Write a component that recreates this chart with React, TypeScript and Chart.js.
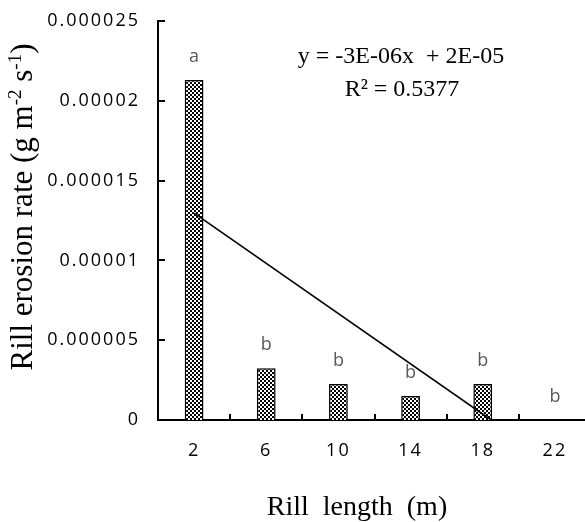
import React, { useEffect, useRef } from 'react';
import { Chart, registerables } from 'chart.js';

Chart.register(...registerables);

const categories = ['2', '6', '10', '14', '18', '22'];
const erosionRates = [0.0000213, 0.00000325, 0.00000225, 0.0000015, 0.00000225, 0];
const significanceLetters = ['a', 'b', 'b', 'b', 'b', 'b'];
const yTickLabels = ['0', '0.000005', '0.00001', '0.000015', '0.00002', '0.000025'];
const equationLines = ['y = -3E-06x  + 2E-05', 'R\u00B2 = 0.5377'];
const xAxisTitle = 'Rill  length  (m)';
const yAxisTitleParts = [
  { t: 'Rill erosion rate (g m', sup: false },
  { t: '-2', sup: true },
  { t: ' s', sup: false },
  { t: '-1', sup: true },
  { t: ')', sup: false },
];

function linearFit(ys: number[]) {
  const n = ys.length;
  const xs = ys.map((_, i) => i + 1);
  const mx = xs.reduce((a, b) => a + b, 0) / n;
  const my = ys.reduce((a, b) => a + b, 0) / n;
  let sxy = 0;
  let sxx = 0;
  for (let i = 0; i < n; i++) {
    sxy += (xs[i] - mx) * (ys[i] - my);
    sxx += (xs[i] - mx) * (xs[i] - mx);
  }
  const slope = sxy / sxx;
  return { slope, intercept: my - slope * mx };
}

function trendPoints(ys: number[]) {
  const { slope, intercept } = linearFit(ys);
  const n = ys.length;
  const start = { x: 1, y: intercept + slope };
  let endX = n;
  let endY = intercept + slope * n;
  if (endY < 0 && slope !== 0) {
    endX = -intercept / slope;
    endY = 0;
  }
  return [start, { x: endX, y: endY }];
}

const SERIF = '"Liberation Serif", "Times New Roman", serif';
const SANS = '"Open Sans", sans-serif';

const overlayPlugin = {
  id: 'overlay',
  beforeDraw(chart: any) {
    chart.ctx.letterSpacing = '2px';
  },
  afterDraw(chart: any) {
    const ctx = chart.ctx;
    const xs = chart.scales.x;
    const ys = chart.scales.y;
    const area = chart.chartArea;
    ctx.save();
    ctx.letterSpacing = '0px';
    ctx.strokeStyle = '#000';
    ctx.lineWidth = 2;
    ys.ticks.forEach((t: any) => {
      const py = Math.round(ys.getPixelForValue(t.value));
      ctx.beginPath();
      ctx.moveTo(area.left, py);
      ctx.lineTo(area.left + 7, py);
      ctx.stroke();
    });
    for (let i = 1; i < categories.length; i++) {
      const px = Math.round(xs.getPixelForValue(i + 0.5));
      ctx.beginPath();
      ctx.moveTo(px, area.bottom);
      ctx.lineTo(px, area.bottom - 6);
      ctx.stroke();
    }
    const meta = chart.getDatasetMeta(0);
    ctx.fillStyle = '#595959';
    ctx.font = `18px ${SANS}`;
    ctx.textAlign = 'center';
    ctx.textBaseline = 'alphabetic';
    meta.data.forEach((el: any, i: number) => {
      ctx.fillText(significanceLetters[i], el.x, el.y - 18);
    });
    ctx.fillStyle = '#000';
    ctx.font = `24px ${SERIF}`;
    ctx.fillText(equationLines[0], 401, 63);
    ctx.fillText(equationLines[1], 402, 96);
    ctx.font = `28px ${SERIF}`;
    ctx.fillText(xAxisTitle, 357, 515);
    const base = 31;
    const supSize = 19;
    ctx.translate(32, 207);
    ctx.rotate(-Math.PI / 2);
    ctx.textAlign = 'left';
    let total = 0;
    const widths = yAxisTitleParts.map((p) => {
      ctx.font = `${p.sup ? supSize : base}px ${SERIF}`;
      const w = ctx.measureText(p.t).width;
      total += w;
      return w;
    });
    let x = -total / 2;
    yAxisTitleParts.forEach((p, i) => {
      ctx.font = `${p.sup ? supSize : base}px ${SERIF}`;
      ctx.fillText(p.t, x, p.sup ? -11 : 0);
      x += widths[i];
    });
    ctx.restore();
  },
};

export default function App() {
  const ref = useRef<HTMLCanvasElement>(null);
  useEffect(() => {
    document.body.style.margin = '0';
    document.body.style.overflow = 'hidden';
    const canvas = ref.current!;
    const ctx = canvas.getContext('2d')!;
    const pc = document.createElement('canvas');
    pc.width = 4;
    pc.height = 4;
    const p = pc.getContext('2d')!;
    p.fillStyle = '#fff';
    p.fillRect(0, 0, 4, 4);
    p.fillStyle = '#000';
    p.fillRect(0, 0, 2, 2);
    p.fillRect(2, 2, 2, 2);
    const pattern = ctx.createPattern(pc, 'repeat')!;

    const barPoints = erosionRates.map((v, i) => ({ x: i + 1, y: v }));

    const chart = new Chart(ctx, {
      type: 'bar',
      data: {
        datasets: [
          {
            type: 'bar',
            data: barPoints as any,
            backgroundColor: pattern as any,
            borderColor: '#000',
            borderWidth: 1.5,
            barPercentage: 0.26,
            categoryPercentage: 1,
            grouped: false,
            order: 2,
          },
          {
            type: 'line',
            data: trendPoints(erosionRates) as any,
            borderColor: '#000',
            borderWidth: 1.6,
            pointRadius: 0,
            fill: false,
            order: 1,
          } as any,
        ],
      },
      options: {
        responsive: false,
        animation: false,
        layout: { padding: { top: 21, right: 9, left: 0, bottom: 0 } },
        plugins: { legend: { display: false }, tooltip: { enabled: false } },
        scales: {
          x: {
            type: 'linear',
            min: 0.5,
            max: 6.5,
            offset: false,
            grid: { display: false, drawTicks: false, offset: false },
            border: { display: true, color: '#000', width: 2 },
            ticks: {
              font: { family: 'Open Sans', size: 18 },
              color: '#000',
              padding: 20,
              maxRotation: 0,
              autoSkip: false,
              callback: (v: any) => categories[Math.round(v) - 1] ?? '',
            },
            afterBuildTicks: (s: any) => {
              s.ticks = categories.map((_, i) => ({ value: i + 1 }));
            },
            afterFit: (s: any) => {
              s.height = 102;
              s.paddingLeft = 0;
              s.paddingRight = 0;
            },
          },
          y: {
            type: 'linear',
            min: 0,
            max: 0.000025,
            grid: { display: false, drawTicks: false },
            border: { display: true, color: '#000', width: 2 },
            ticks: {
              stepSize: 0.000005,
              font: { family: 'Open Sans', size: 18 },
              color: '#000',
              padding: 18,
              callback: (_v: any, i: number) => yTickLabels[i] ?? '',
            },
            afterFit: (s: any) => {
              s.width = 158;
              s.paddingTop = 0;
              s.paddingBottom = 0;
            },
          },
        },
      } as any,
      plugins: [overlayPlugin],
    });
    return () => chart.destroy();
  }, []);
  return <canvas ref={ref} width={600} height={522} style={{ display: 'block' }} />;
}
